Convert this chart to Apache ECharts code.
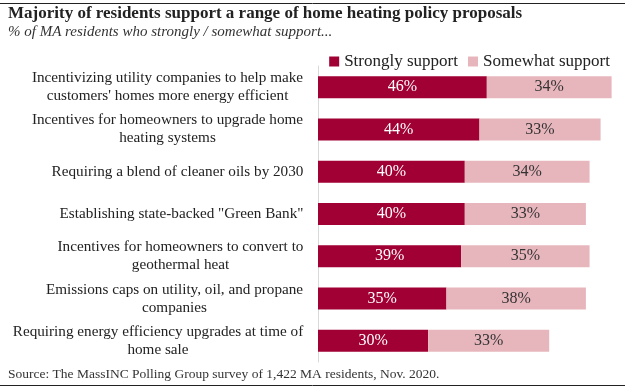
<!DOCTYPE html>
<html><head><meta charset="utf-8">
<script src="https://cdn.jsdelivr.net/npm/echarts@6/dist/echarts.min.js"></script>
<style>html,body{margin:0;padding:0;background:#fff}#c{width:625px;height:388px}</style>
</head><body><div id="c"></div>
<script>
const categories = [
  "Incentivizing utility companies to help make\ncustomers' homes more energy efficient",
  "Incentives for homeowners to upgrade home\nheating systems",
  "Requiring a blend of cleaner oils by 2030",
  "Establishing state-backed \"Green Bank\"",
  "Incentives for homeowners to convert to\ngeothermal heat",
  "Emissions caps on utility, oil, and propane\ncompanies",
  "Requiring energy efficiency upgrades at time of\nhome sale"
];
const strongly = [46, 44, 40, 40, 39, 35, 30];
const somewhat = [34, 33, 34, 33, 35, 38, 33];

const serif = "'Liberation Serif', 'DejaVu Serif', serif";
const labelSize = 15.2;

// measure each label block so lines can be centred within a right-aligned block
const ctx = document.createElement('canvas').getContext('2d');
ctx.font = labelSize + "px 'Liberation Serif'";
const rich = {};
categories.forEach((c, i) => {
  const w = Math.max(...c.split('\n').map(l => ctx.measureText(l).width));
  rich['w' + i] = {width: Math.ceil(w) + 1, align: 'center', fontFamily: serif, fontSize: labelSize, color: '#222', lineHeight: 18};
});

const chart = echarts.init(document.getElementById('c'));
chart.setOption({
  animation: false,
  textStyle: {fontFamily: serif},
  graphic: [
    {type: 'line', shape: {x1: 0, y1: 3.5, x2: 625, y2: 3.5}, style: {stroke: '#222', lineWidth: 1}},
    {type: 'line', shape: {x1: 0, y1: 385.5, x2: 625, y2: 385.5}, style: {stroke: '#222', lineWidth: 1}},
    {type: 'text', left: 8, top: 5, style: {text: 'Majority of residents support a range of home heating policy proposals', font: "bold 17px 'Liberation Serif', serif", fill: '#222'}},
    {type: 'text', left: 8, top: 25, style: {text: '% of MA residents who strongly / somewhat support...', font: "italic 15px 'Liberation Serif', serif", fill: '#333'}},
    {type: 'text', left: 8, top: 367, style: {text: 'Source: The MassINC Polling Group survey of 1,422 MA residents, Nov. 2020.', font: "13.5px 'Liberation Serif', serif", fill: '#333'}}
  ],
  legend: {
    right: 10, top: 48, itemWidth: 10, itemHeight: 10, itemGap: 10,
    icon: 'rect',
    textStyle: {fontFamily: serif, fontSize: 17, color: '#222'},
    data: ['Strongly support', 'Somewhat support']
  },
  grid: {left: 318, right: 13.4, top: 66, bottom: 26},
  xAxis: {type: 'value', min: 0, max: 80, show: false},
  yAxis: {
    type: 'category', inverse: true, data: categories,
    axisLine: {lineStyle: {color: '#d9d9d9'}},
    axisTick: {show: false},
    axisLabel: {
      align: 'right', margin: 14, fontFamily: serif, fontSize: labelSize, color: '#222', lineHeight: 18,
      formatter: (v, i) => v.split('\n').map(l => '{w' + i + '|' + l + '}').join('\n'),
      rich: rich
    }
  },
  series: [
    {name: 'Strongly support', type: 'bar', stack: 's', data: strongly, barWidth: 22,
     itemStyle: {color: '#A10035'},
     label: {show: true, position: 'inside', formatter: '{c}%', color: '#fff', fontFamily: serif, fontSize: 16}},
    {name: 'Somewhat support', type: 'bar', stack: 's', data: somewhat, barWidth: 22,
     itemStyle: {color: '#E7B6BC'},
     label: {show: true, position: 'inside', formatter: '{c}%', color: '#333', fontFamily: serif, fontSize: 16}}
  ]
});
</script></body></html>
